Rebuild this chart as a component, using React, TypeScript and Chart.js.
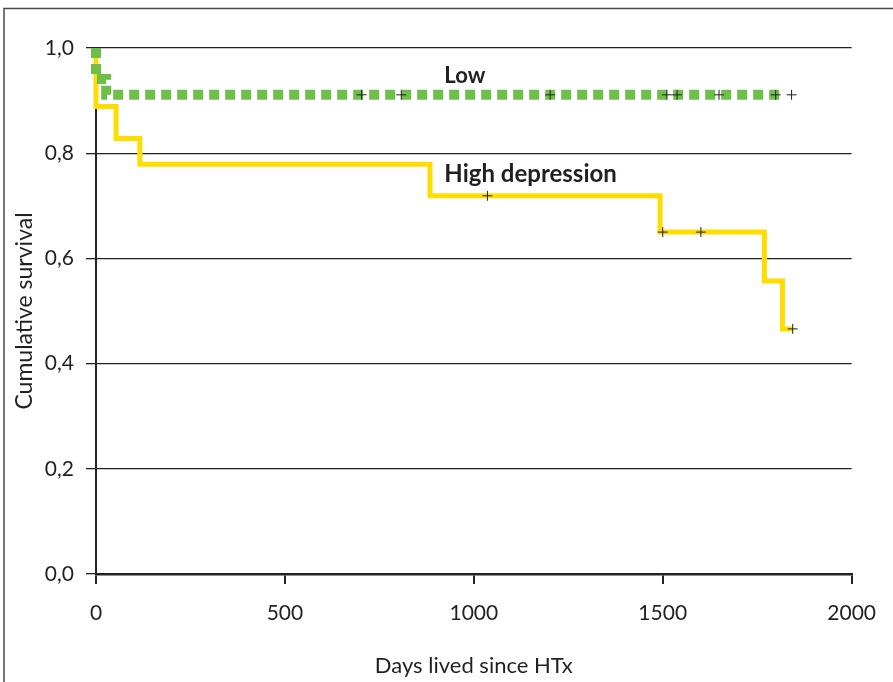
import React, { useEffect, useRef } from "react";
import { Chart, registerables } from "chart.js";

Chart.register(...registerables);

// Kaplan–Meier curve for "Low" group: event days and survival
const lowDays = [0, 0, 27, 1815];
const lowSurv = [1.0, 0.941, 0.911, 0.911];
// censored observations (Low)
const lowCensorDays = [703, 808, 1202, 1511, 1538, 1649, 1799, 1841];
const lowCensorSurv = [0.911, 0.911, 0.911, 0.911, 0.911, 0.911, 0.911, 0.911];

// Kaplan–Meier curve for "High depression" group
const highDays = [0, 0, 53, 116, 884, 1493, 1769, 1817, 1846];
const highSurv = [1.0, 0.889, 0.828, 0.779, 0.719, 0.65, 0.557, 0.466, 0.466];
// censored observations (High depression)
const highCensorDays = [1036, 1500, 1601, 1844];
const highCensorSurv = [0.719, 0.65, 0.65, 0.466];

const xTicks = [0, 500, 1000, 1500, 2000];
const yTicks = [0, 0.2, 0.4, 0.6, 0.8, 1.0];

const seriesLabels = ["Low", "High depression"];
const labelAnchorsX = [922, 922];
const labelAnchorsY = [0.933, 0.745];

const xTitle = "Days lived since HTx";
const yTitle = "Cumulative survival";

const FONT = "Lato, 'Open Sans', sans-serif";
const TEXT = "#231f20";

const toPts = (xs: number[], ys: number[]) => xs.map((x, i) => ({ x, y: ys[i] }));

export default function App() {
  const ref = useRef<HTMLCanvasElement | null>(null);

  useEffect(() => {
    if (!ref.current) return;

    const framePlugin = {
      id: "frame",
      beforeDraw(chart: any) {
        const ctx = chart.ctx;
        ctx.save();
        ctx.fillStyle = "#ffffff";
        ctx.fillRect(0, 0, chart.width, chart.height);
        ctx.strokeStyle = "#4a4a4a";
        ctx.lineWidth = 1.5;
        ctx.beginPath();
        ctx.moveTo(4, chart.height);
        ctx.lineTo(4, 8.5);
        ctx.lineTo(chart.width, 8.5);
        ctx.stroke();
        ctx.restore();
      },
    };

    const labelPlugin = {
      id: "seriesLabels",
      afterDatasetsDraw(chart: any) {
        const ctx = chart.ctx;
        const xs = chart.scales.x;
        const ys = chart.scales.y;
        ctx.save();
        ctx.fillStyle = TEXT;
        ctx.textAlign = "left";
        ctx.textBaseline = "alphabetic";
        const sizes = [22, 24];
        seriesLabels.forEach((t, i) => {
          ctx.font = `bold ${sizes[i]}px ${FONT}`;
          ctx.fillText(t, xs.getPixelForValue(labelAnchorsX[i]), ys.getPixelForValue(labelAnchorsY[i]));
        });
        ctx.restore();
      },
    };

    const chart = new Chart(ref.current, {
      type: "line",
      data: {
        datasets: [
          {
            label: "Low censored",
            data: toPts(lowCensorDays, lowCensorSurv),
            showLine: false,
            pointStyle: "cross",
            pointRadius: 5,
            pointBorderWidth: 1,
            pointBorderColor: "#222",
            borderColor: "#222",
            clip: false,
          },
          {
            label: "High censored",
            data: toPts(highCensorDays, highCensorSurv),
            showLine: false,
            pointStyle: "cross",
            pointRadius: 5,
            pointBorderWidth: 1,
            pointBorderColor: "#222",
            borderColor: "#222",
            clip: false,
          },
          {
            label: seriesLabels[0],
            data: toPts(lowDays, lowSurv),
            stepped: "before",
            borderColor: "#6dbf47",
            borderWidth: 10,
            borderDash: [10, 6],
            borderCapStyle: "butt",
            borderJoinStyle: "miter",
            pointRadius: 0,
            fill: false,
            clip: false,
          },
          {
            label: seriesLabels[1],
            data: toPts(highDays, highSurv),
            stepped: "before",
            borderColor: "#ffdd00",
            borderWidth: 5,
            borderCapStyle: "butt",
            borderJoinStyle: "miter",
            pointRadius: 0,
            fill: false,
            clip: false,
          },
        ],
      },
      options: {
        animation: false,
        responsive: false,
        devicePixelRatio: 1,
        layout: { padding: { top: 48, right: 40, left: 0, bottom: 0 } },
        plugins: {
          legend: { display: false },
          tooltip: { enabled: false },
          title: { display: false },
        },
        scales: {
          x: {
            type: "linear",
            min: 0,
            max: 2000,
            afterFit: (s: any) => {
              s.height = 108;
            },
            afterBuildTicks: (s: any) => {
              s.ticks = xTicks.map((v) => ({ value: v }));
            },
            ticks: {
              font: { family: FONT, size: 21 },
              color: TEXT,
              padding: 17,
              maxRotation: 0,
              callback: (v: any) => String(v),
            },
            grid: {
              drawOnChartArea: false,
              drawTicks: true,
              tickLength: 10,
              color: "#222",
              lineWidth: 2,
            },
            border: { display: true, color: "#222", width: 2.5 },
            title: {
              display: true,
              text: xTitle,
              font: { family: FONT, size: 22 },
              color: TEXT,
              padding: { top: 0, bottom: 3 },
            },
          },
          y: {
            type: "linear",
            min: 0,
            max: 1,
            afterFit: (s: any) => {
              s.width = 96;
            },
            afterBuildTicks: (s: any) => {
              s.ticks = yTicks.map((v) => ({ value: v }));
            },
            ticks: {
              font: { family: FONT, size: 21 },
              color: TEXT,
              padding: 12,
              callback: (v: any) => Number(v).toFixed(1).replace(".", ","),
            },
            grid: {
              drawOnChartArea: true,
              drawTicks: true,
              tickLength: 10,
              color: "#222",
              lineWidth: 1.3,
            },
            border: { display: true, color: "#222", width: 2 },
            title: {
              display: true,
              text: yTitle,
              font: { family: FONT, size: 23 },
              color: TEXT,
              padding: { top: 11, bottom: 0 },
            },
          },
        },
      },
      plugins: [framePlugin, labelPlugin],
    } as any);

    return () => chart.destroy();
  }, []);

  return (
    <div style={{ position: "absolute", left: 0, top: 0, width: 893, height: 682 }}>
      <canvas ref={ref} width={893} height={682} style={{ display: "block" }} />
    </div>
  );
}
